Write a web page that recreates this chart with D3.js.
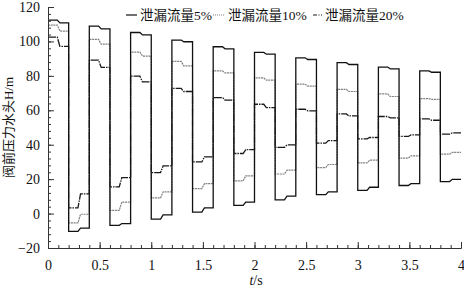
<html lang="zh">
<head>
<meta charset="UTF-8">
<title>阀前压力水头</title>
<script src="https://cdn.jsdelivr.net/npm/d3@7"></script>
<style>
    body { margin: 0; background: #fff; }
    svg { display: block; font-family: "Liberation Serif", "Noto Sans CJK SC", serif; }
</style>
</head>
<body>
<svg id="svg"></svg>
<script>
var WIDTH = 464, HEIGHT = 290;
var LEFT = 48, RIGHT = 461, TOP = 7, BOTTOM = 248;

// each half period (0.2 s) has two levels: before and after the small mid step
var leak5 = [
    [112.4, 110.8], [-10.3, -8.4], [108.9, 107.3], [-6.8, -5.8], [105.2, 103.8],
    [-3.2, -0.8], [100.8, 99.8], [0.8, 3.3], [96.9, 95.7], [4.8, 6.7],
    [93.6, 92.6], [7.9, 10.1], [90.5, 89.5], [11.0, 12.6], [87.7, 86.6],
    [13.5, 15.3], [85.1, 84.1], [16.3, 17.4], [82.9, 82.1], [18.6, 19.9]
];
var leak10 = [
    [109.5, 106.0], [-5.4, -0.4], [101.2, 98.4], [1.9, 6.7], [93.8, 91.5],
    [9.1, 12.6], [88.4, 85.8], [14.5, 17.4], [82.9, 81.7], [19.0, 21.9],
    [78.8, 77.5], [23.0, 25.2], [75.2, 74.0], [26.7, 28.5], [72.1, 70.9],
    [29.4, 31.0], [69.5, 68.0], [32.2, 33.5], [66.8, 66.3], [34.5, 35.5]
];
var leak20 = [
    [102.5, 97.1], [3.3, 11.4], [89.1, 84.9], [15.5, 20.9], [79.8, 76.5],
    [23.8, 27.7], [72.7, 70.9], [30.0, 32.9], [67.4, 65.9], [34.9, 37.2],
    [63.5, 61.6], [38.4, 39.9], [60.6, 59.7], [40.9, 42.4], [57.9, 56.7],
    [43.4, 44.2], [56.4, 55.6], [44.8, 45.7], [55.0, 54.2], [46.1, 46.9]
];
var seriesNames = ["泄漏流量5%", "泄漏流量10%", "泄漏流量20%"];
var xTicks = [0, 0.5, 1, 1.5, 2, 2.5, 3, 3.5, 4];
var yTicks = [-20, 0, 20, 40, 60, 80, 100, 120];

var HALF = 0.2;

var svg = d3.select("#svg").attr("width", WIDTH).attr("height", HEIGHT);

var xScale = d3.scaleLinear().domain([0, 4]).range([LEFT, RIGHT]);
var yScale = d3.scaleLinear().domain([-20, 120]).range([BOTTOM, TOP]);

// turn level pairs into a stepped path
function toPoints(levels) {
    var pts = [];
    levels.forEach(function(lv, i) {
        var t0 = i * HALF;
        pts.push([t0, lv[0]]);
        pts.push([t0 + 0.09, lv[0]]);
        pts.push([t0 + 0.115, lv[1]]);
        pts.push([t0 + HALF, lv[1]]);
    });
    return pts;
}

var line = d3.line()
    .x(function(d) { return xScale(d[0]); })
    .y(function(d) { return yScale(d[1]); });

var styles = [
    { stroke: "#111", dash: null, width: 1.3 },
    { stroke: "#808080", dash: "2,0.7", width: 1.2 },
    { stroke: "#1a1a1a", dash: "8,1,1.5,1", width: 1.3 }
];

var allSeries = [leak5, leak10, leak20];

// draw 20% and 10% first so 5% sits on top
[2, 1, 0].forEach(function(k) {
    svg.append("path")
       .attr("d", line(toPoints(allSeries[k])))
       .attr("fill", "none")
       .attr("stroke", styles[k].stroke)
       .attr("stroke-width", styles[k].width)
       .attr("stroke-dasharray", styles[k].dash);
});

// Axes
var xAxis = d3.axisBottom(xScale).tickValues(xTicks)
    .tickSizeInner(-6).tickSizeOuter(0).tickPadding(12)
    .tickFormat(function(d) { return d; });
var xMinor = d3.axisBottom(xScale).tickValues(d3.range(0, 41).map(function(d) { return d / 10; }))
    .tickSizeInner(-3).tickSizeOuter(0).tickFormat("");
var yAxis = d3.axisLeft(yScale).tickValues(yTicks)
    .tickSizeInner(-6).tickSizeOuter(0).tickPadding(8);
var yMinor = d3.axisLeft(yScale).tickValues(d3.range(-20, 121, 4))
    .tickSizeInner(-3).tickSizeOuter(0).tickFormat("");

svg.append("g").attr("transform", "translate(0," + BOTTOM + ")").call(xMinor);
svg.append("g").attr("class", "x axis").attr("transform", "translate(0," + BOTTOM + ")").call(xAxis);
svg.append("g").attr("transform", "translate(" + LEFT + ",0)").call(yMinor);
svg.append("g").attr("class", "y axis").attr("transform", "translate(" + LEFT + ",0)").call(yAxis);

svg.selectAll(".axis text")
   .attr("font-family", "Liberation Serif, serif")
   .attr("font-size", 14)
   .attr("fill", "#111");
svg.selectAll(".domain, .tick line").attr("stroke", "#333");

// axis titles
var xt = svg.append("text")
   .attr("x", 256).attr("y", 285)
   .attr("text-anchor", "middle")
   .attr("font-size", 14)
   .attr("fill", "#111");
xt.append("tspan").attr("font-style", "italic").text("t");
xt.append("tspan").text("/s");

svg.append("text")
   .attr("transform", "translate(13," + ((TOP + BOTTOM) / 2) + ") rotate(-90)")
   .attr("text-anchor", "middle")
   .attr("font-size", 13)
   .attr("fill", "#111")
   .text("阀前压力水头H/m");

// Legend
var legendPos = [[126, 137, 140], [213, 224, 228], [313, 322, 325]];
seriesNames.forEach(function(name, k) {
    var p = legendPos[k];
    svg.append("line")
       .attr("x1", p[0]).attr("x2", p[1]).attr("y1", 15).attr("y2", 15)
       .attr("stroke", styles[k].stroke)
       .attr("stroke-width", 1.2)
       .attr("stroke-dasharray", k == 1 ? "1,1" : (k == 2 ? "4,1.5,1,1.5,1,1.5" : null));
    svg.append("text")
       .attr("x", p[2]).attr("y", 20)
       .attr("font-size", 13.5)
       .attr("fill", "#111")
       .text(name);
});
</script>
</body>
</html>
